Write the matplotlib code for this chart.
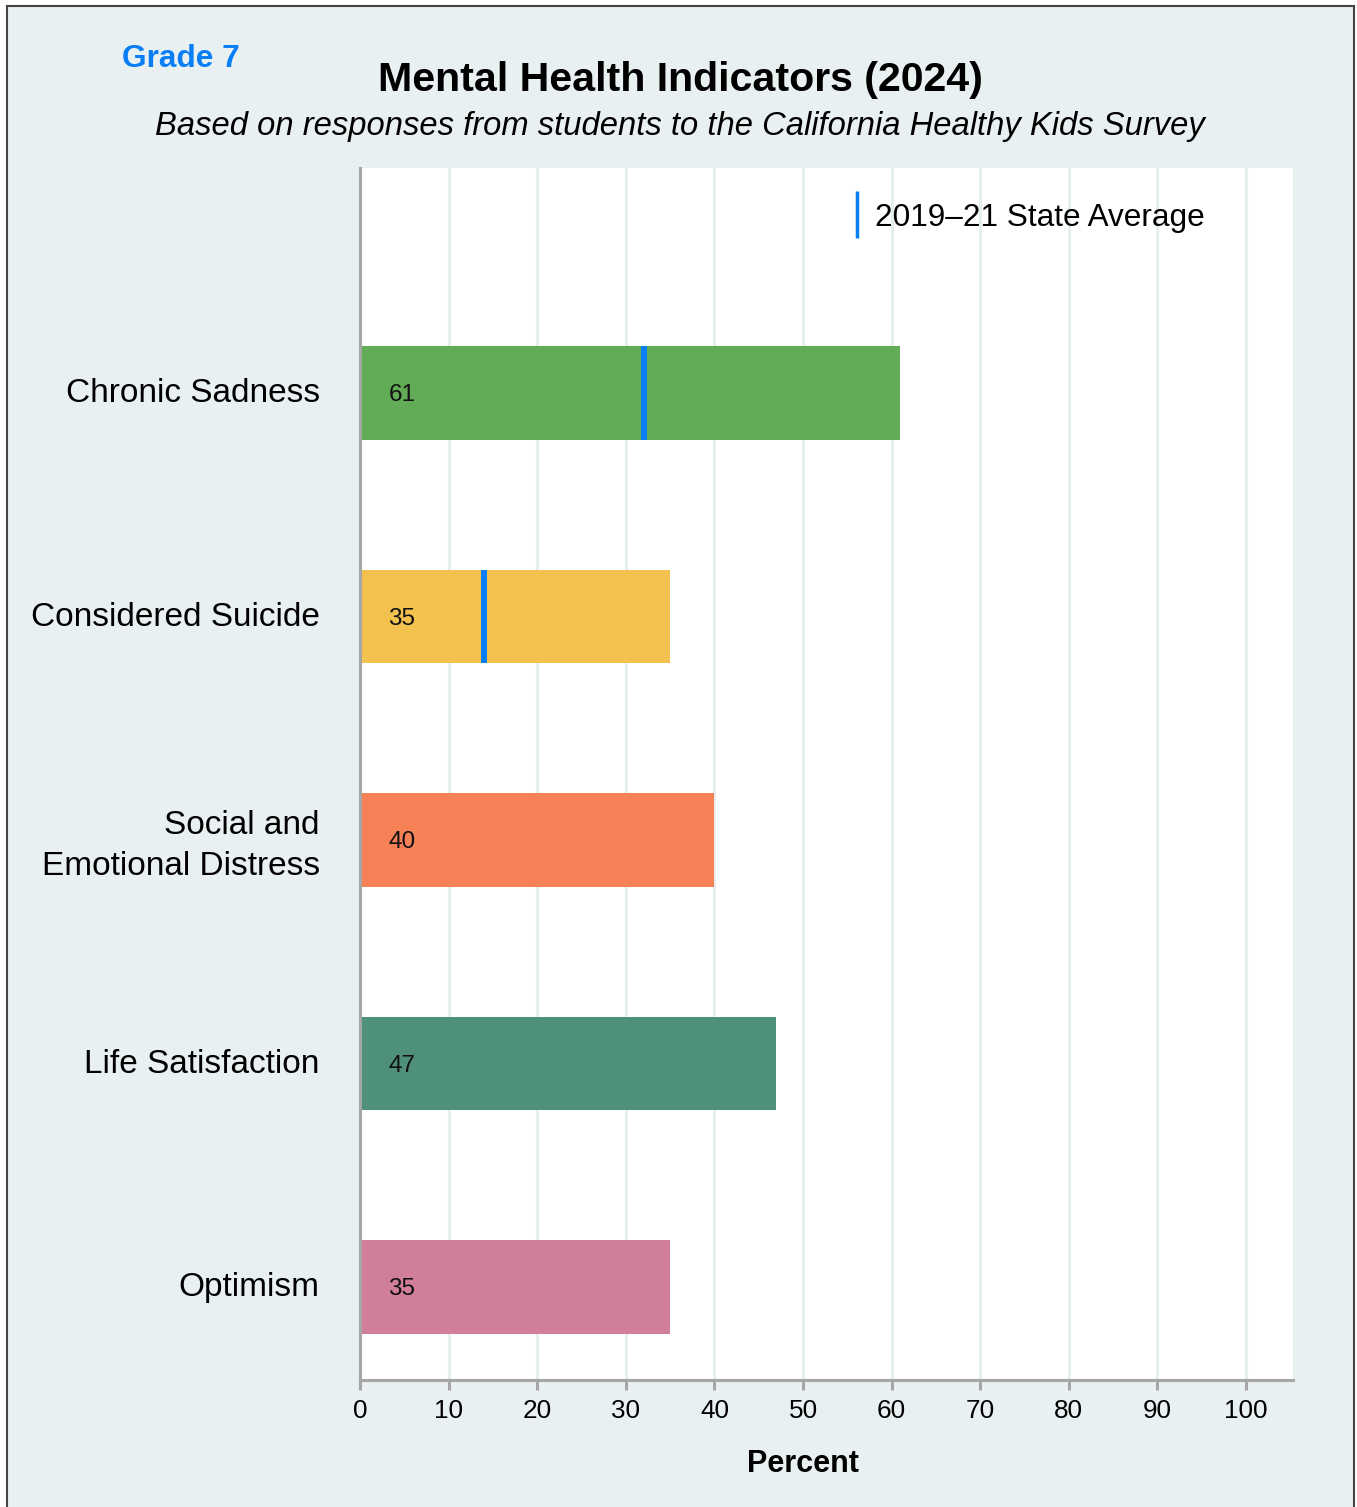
import matplotlib.pyplot as plt
from matplotlib.patches import Rectangle

# Data
categories = ['Chronic Sadness', 'Considered Suicide', 'Social and\nEmotional Distress',
              'Life Satisfaction', 'Optimism']
values = [61, 35, 40, 47, 35]
bar_colors = ['#62ac57', '#f2c14e', '#f68157', '#4e9178', '#d07e9c']
state_avg = [32, 14, None, None, None]
x_ticks = [0, 10, 20, 30, 40, 50, 60, 70, 80, 90, 100]

bg = '#e9f0f2'
blue = '#0a7ff5'
grey = '#a6a6a6'

plt.rcParams['font.family'] = ['Liberation Sans', 'DejaVu Sans']

fig = plt.figure(figsize=(13.57, 15.07), dpi=100)
fig.patch.set_facecolor('white')

# panel background with dark frame
fig.patches.append(Rectangle((7 / 1357, -0.01), 1347 / 1357, 1 - 6 / 1507 + 0.01,
                             transform=fig.transFigure, facecolor=bg,
                             edgecolor='#444444', linewidth=1.5, zorder=-1))

ax = fig.add_axes([360 / 1357, 1 - 1380 / 1507, 933 / 1357, 1212 / 1507])
ax.set_facecolor('white')

pos = list(range(len(categories)))
bh = 0.42
ax.barh(pos, values, height=bh, color=bar_colors, zorder=2)

for p, v, s in zip(pos, values, state_avg):
    ax.text(3.2, p + 0.01, str(v), ha='left', va='center', fontsize=17.5, color='#111111', zorder=4)
    if s is not None:
        ax.plot([s, s], [p - bh / 2, p + bh / 2], color=blue, linewidth=4.3,
                solid_capstyle='butt', zorder=3)

# legend drawn by hand
ax.plot([56.1, 56.1], [-0.905, -0.695], color=blue, linewidth=2.5, solid_capstyle='butt', zorder=3)
ax.text(58.1, -0.785, '2019\u201321 State Average', ha='left', va='center', fontsize=22.7, zorder=4)

ax.set_xlim(0, 105.3)
ax.set_ylim(4.416, -1.007)
ax.set_xticks(x_ticks)
ax.set_xticklabels([str(t) for t in x_ticks], fontsize=18.8)
ax.set_yticks([p - 0.013 for p in pos])
ax.set_yticklabels(categories, fontsize=24, ha='right', multialignment='right', linespacing=1.45)
ax.tick_params(axis='y', length=0, pad=29)
ax.tick_params(axis='x', length=7, width=2.2, color=grey, pad=7)

ax.grid(axis='x', color='#e6eef0', linewidth=2.2, zorder=0)
ax.set_axisbelow(True)
for side in ['top', 'right']:
    ax.spines[side].set_visible(False)
for side in ['left', 'bottom']:
    ax.spines[side].set_color(grey)
    ax.spines[side].set_linewidth(2.2)

ax.set_xlabel('Percent', fontsize=22, fontweight='bold')
ax.xaxis.set_label_coords(50 / 105.3, -0.057)

fig.text(181 / 1357, 1 - 59 / 1507, 'Grade 7', ha='center', va='center',
         fontsize=22.8, fontweight='bold', color=blue)
fig.text(680 / 1357, 1 - 80 / 1507, 'Mental Health Indicators (2024)', ha='center', va='center',
         fontsize=29.6, fontweight='bold')
fig.text(680 / 1357, 1 - 126 / 1507,
         'Based on responses from students to the California Healthy Kids Survey',
         ha='center', va='center', fontsize=23.6, style='italic')

fig.savefig('out.png', dpi=100, facecolor=fig.get_facecolor())
